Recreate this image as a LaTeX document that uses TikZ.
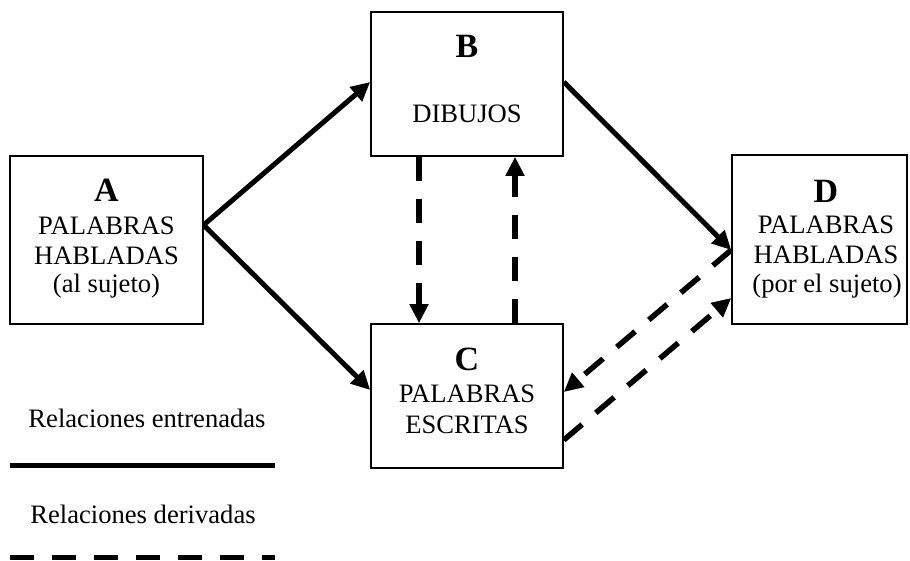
\documentclass[tikz,border=0pt]{standalone}
\usepackage{fontspec}
\setmainfont{Liberation Serif}
\usetikzlibrary{arrows.meta}
\begin{document}
\begin{tikzpicture}[x=1pt,y=-1pt,
  box/.style={draw,line width=1.6pt,rectangle,inner sep=0pt},
  txt/.style={anchor=base,inner sep=0pt,font=\fontsize{26.6}{30}\selectfont},
  ltr/.style={anchor=base,inner sep=0pt,font=\fontsize{34}{34}\selectfont\bfseries},
  solidarrow/.style={line width=5pt,-{Triangle[width=18pt,length=19pt]}},
  dasharrow/.style={line width=5.5pt,dash pattern=on 24pt off 18pt,-{Triangle[width=18pt,length=19pt]}},
]
\useasboundingbox (0,0) rectangle (910,560);
% boxes
\node[box,minimum width=192.5pt,minimum height=168pt] (A) at (106.5,240) {};
\node[box,minimum width=192pt,minimum height=144pt] (B) at (467,84) {};
\node[box,minimum width=192pt,minimum height=144pt] (C) at (467,396) {};
\node[box,minimum width=175pt,minimum height=169pt] (D) at (819.5,239.5) {};
% texts A
\node[ltr] (At) at (106.5,201) {A};
\node[txt] (A1) at (106.5,234) {PALABRAS};
\node[txt] (A2) at (106.5,264) {HABLADAS};
\node[txt] (A3) at (106.5,292) {(al sujeto)};
% texts B
\node[ltr] (Bt) at (467,57) {B};
\node[txt] (B1) at (467,122) {DIBUJOS};
% texts C
\node[ltr] (Ct) at (467,370) {C};
\node[txt] (C1) at (467,402) {PALABRAS};
\node[txt] (C2) at (467,433) {ESCRITAS};
% texts D
\node[ltr] (Dt) at (826,202) {D};
\node[txt] (D1) at (826,233) {PALABRAS};
\node[txt] (D2) at (826,263) {HABLADAS};
\node[txt] (D3) at (827,292) {(por el sujeto)};
% solid connectors
\draw[solidarrow] ([yshift=15pt]A.east) -- ([yshift=2pt]B.west);
\draw[solidarrow] ([yshift=15pt]A.east) -- ([yshift=6pt]C.west);
\draw[solidarrow] ([yshift=2pt]B.east) -- ([yshift=-10.5pt]D.west);
% dashed connectors
\draw[dasharrow] ([xshift=-48pt]B.south) -- ([xshift=-48pt]C.north);
\draw[dasharrow] ([xshift=48pt]C.north) -- ([xshift=48pt]B.south);
\draw[dasharrow] ([yshift=-10.5pt]D.west) -- ([yshift=4pt]C.east);
\draw[dasharrow] ([yshift=-44pt]C.east) -- ([yshift=-58.5pt]D.west);
% legend
\node[txt] (L1) at (147,427) {Relaciones entrenadas};
\coordinate (s1) at (10,465.5);
\coordinate (s2) at (275,465.5);
\draw[line width=5pt] (s1) -- (s2);
\node[txt] (L2) at (143,523) {Relaciones derivadas};
\coordinate (d1) at (10,557);
\coordinate (d2) at (275,557);
\draw[line width=5pt,dash pattern=on 24pt off 18pt] (d1) -- (d2);
\end{tikzpicture}
\end{document}
